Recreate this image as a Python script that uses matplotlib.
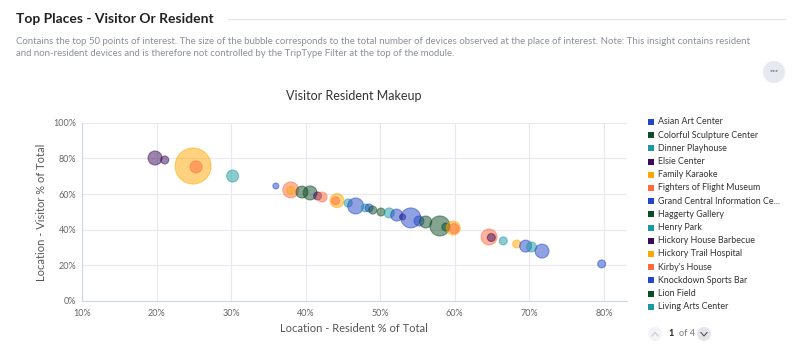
import matplotlib
matplotlib.use("Agg")
import matplotlib.pyplot as plt
from matplotlib.patches import Rectangle, Ellipse
from matplotlib.lines import Line2D
from matplotlib.ticker import FuncFormatter

plt.rcParams['font.family'] = ['Lato', 'DejaVu Sans']

# ---- data ----
palette = ['#2446c6', '#0d4d26', '#1a9aa0', '#3c0a5a', '#ffa600', '#ff6b3d']
legend_names = ['Asian Art Center', 'Colorful Sculpture Center', 'Dinner Playhouse', 'Elsie Center',
                'Family Karaoke', 'Fighters of Flight Museum', 'Grand Central Information Ce...',
                'Haggerty Gallery', 'Henry Park', 'Hickory House Barbecue', 'Hickory Trail Hospital',
                "Kirby's House", 'Knockdown Sports Bar', 'Lion Field', 'Living Arts Center']

resident_pct = [19.8, 21.1, 24.9, 25.3, 30.2, 36.0, 38.0, 38.0, 39.5, 40.6, 41.6, 42.2,
                44.2, 44.0, 45.7, 46.7, 48.0, 48.5, 49.0, 50.1, 51.2, 52.2, 53.0, 54.1,
                55.2, 56.1, 58.0, 58.8, 59.8, 59.9, 64.6, 64.9, 66.5, 68.3, 69.5, 70.3,
                71.7, 79.7]
visitor_pct = [80.2, 79.1, 75.7, 75.2, 70.1, 64.5, 62.3, 62.0, 61.1, 60.6, 58.9, 58.3,
               56.3, 56.2, 55.0, 53.3, 52.2, 52.2, 51.0, 49.9, 49.4, 48.2, 47.1, 46.6,
               44.9, 44.3, 42.1, 41.5, 40.9, 40.6, 35.9, 35.6, 33.7, 32.0, 30.8, 30.3,
               28.0, 20.8]
devices = [49, 16, 324, 36, 36, 9, 64, 16, 36, 49, 16, 25,
           49, 16, 16, 64, 16, 16, 16, 16, 25, 36, 9, 100,
           25, 36, 100, 16, 49, 25, 64, 16, 16, 16, 36, 25,
           49, 16]
color_idx = [3, 3, 4, 5, 2, 0, 5, 4, 1, 1, 3, 5,
             4, 5, 2, 0, 2, 0, 1, 1, 2, 0, 3, 0,
             0, 1, 1, 1, 4, 5, 5, 3, 2, 4, 0, 2,
             0, 0]

x_ticks = [10, 20, 30, 40, 50, 60, 70, 80]
y_ticks = [0, 20, 40, 60, 80, 100]

# ---- figure ----
fig = plt.figure(figsize=(8, 3.6), dpi=100)
fig.patch.set_facecolor('white')

W, H = 800, 360
def fx(px): return px / W
def fy(py): return 1 - py / H

def fig_circle(cx, cy, r, color):
    fig.add_artist(Ellipse((fx(cx), fy(cy)), 2 * r / W, 2 * r / H,
                           transform=fig.transFigure, facecolor=color, edgecolor='none'))

ax = fig.add_axes([fx(82), fy(301), fx(627) - fx(82), fy(122.7) - fy(301)])
ax.set_facecolor('white')

cols = [palette[i] for i in color_idx]
sizes = [d * 2.07 for d in devices]
ax.scatter(resident_pct, visitor_pct, s=sizes, c=cols, alpha=0.5,
           edgecolors=cols, linewidths=0.8, zorder=3)

ax.set_xlim(10, 83.1)
ax.set_ylim(0, 100)
ax.set_xticks(x_ticks)
ax.set_yticks(y_ticks)
ax.xaxis.set_major_formatter(FuncFormatter(lambda v, p: f'{int(v)}%'))
ax.yaxis.set_major_formatter(FuncFormatter(lambda v, p: f'{int(v)}%'))
ax.grid(True, color='#e8e8ee', linewidth=0.8, zorder=0)
ax.set_axisbelow(True)
for s in ['top', 'right']:
    ax.spines[s].set_visible(False)
for s in ['left', 'bottom']:
    ax.spines[s].set_color('#ccd6eb')
    ax.spines[s].set_linewidth(0.8)
ax.tick_params(axis='both', length=0, labelsize=6.5, colors='#666666', pad=4)
ax.tick_params(axis='x', pad=6)

# axis labels
fig.text(fx(354), fy(328), 'Location - Resident % of Total', ha='center', va='center',
         fontsize=8, color='#555555')
fig.text(fx(42), fy(212), 'Location - Visitor % of Total', ha='center', va='center',
         fontsize=8, color='#555555', rotation=90)

# chart title
fig.text(fx(354), fy(96), 'Visitor Resident Makeup', ha='center', va='center',
         fontsize=9, color='#333333')

# header
fig.text(fx(16), fy(19), 'Top Places - Visitor Or Resident', ha='left', va='center',
         fontsize=10, fontweight='bold', color='#222222')
fig.add_artist(Line2D([fx(228), fx(785)], [fy(19), fy(19)], color='#e2e4ea', linewidth=0.8))
fig.text(fx(16), fy(42), 'Contains the top 50 points of interest. The size of the bubble corresponds to the total number of devices observed at the place of interest. Note: This insight contains resident',
         ha='left', va='center', fontsize=6.9, color='#8a8f99')
fig.text(fx(16), fy(53), 'and non-resident devices and is therefore not controlled by the TripType Filter at the top of the module.',
         ha='left', va='center', fontsize=6.9, color='#8a8f99')

# menu button
fig_circle(774, 72, 11, '#e6e9f0')
fig.text(fx(774), fy(71), '···', ha='center', va='center', fontsize=8, color='#8a8f99',
         fontweight='bold')

# legend
for i, name in enumerate(legend_names):
    y = 122 + i * 13.2
    col = palette[i % len(palette)]
    fig.add_artist(Rectangle((fx(648), fy(y + 3)), 6 / W, 6 / H, transform=fig.transFigure,
                             facecolor=col, edgecolor='none'))
    fig.text(fx(658), fy(y), name, ha='left', va='center', fontsize=6.4, color='#333333')

# pagination
fig_circle(655, 334, 7, '#f3f4f7')
fig_circle(704, 334, 7, '#e3e5ea')
fig.add_artist(Line2D([fx(652), fx(655), fx(658)], [fy(336), fy(332.5), fy(336)],
                      color='#c8ccd4', linewidth=0.8))
fig.add_artist(Line2D([fx(701), fx(704), fx(707)], [fy(332.5), fy(336), fy(332.5)],
                      color='#555555', linewidth=0.8))
fig.text(fx(668), fy(334), '1', ha='left', va='center', fontsize=6.6, color='#222222',
         fontweight='bold')
fig.text(fx(679), fy(334), 'of 4', ha='left', va='center', fontsize=6.6, color='#777777')

fig.savefig('out.png', dpi=100, facecolor='white')
